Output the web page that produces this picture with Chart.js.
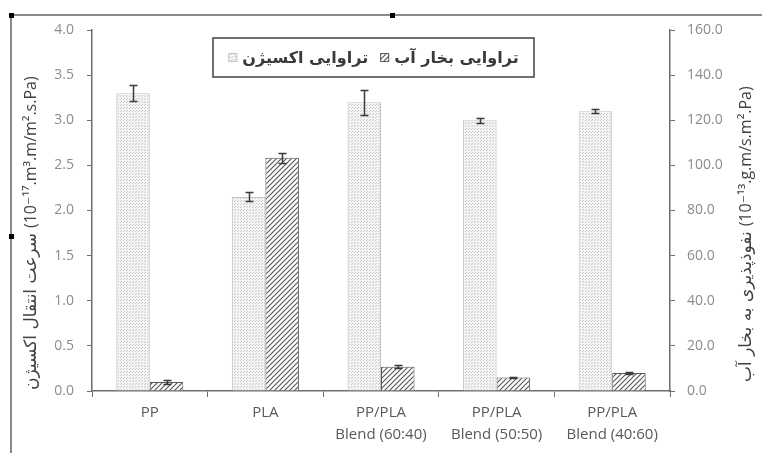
<!DOCTYPE html>
<html>
<head>
<meta charset="utf-8">
<script src="https://cdn.jsdelivr.net/npm/chart.js@4.4.0/dist/chart.umd.min.js"></script>
<style>
  html, body { margin: 0; padding: 0; background: #ffffff; }
  #wrap { width: 762px; height: 453px; position: relative; }
</style>
</head>
<body>
<div id="wrap"><canvas id="chart" width="762" height="453"></canvas></div>
<script>
// Samples on the category axis
const categories = [
  ['PP'],
  ['PLA'],
  ['PP/PLA', 'Blend (60:40)'],
  ['PP/PLA', 'Blend (50:50)'],
  ['PP/PLA', 'Blend (40:60)']
];

// Oxygen transmission rate (left axis, 10^-17 m3.m/m2.s.Pa)
const oxygenLabel = 'تراوایی اکسیژن';
const oxygenValues = [3.30, 2.15, 3.20, 3.00, 3.10];
const oxygenErrors = [0.09, 0.05, 0.14, 0.03, 0.02];

// Water vapour permeability (right axis, 10^-13 g.m/s.m2.Pa)
const vaporLabel = 'تراوایی بخار آب';
const vaporValues = [4.0, 103.4, 10.8, 6.0, 8.0];
const vaporErrors = [1.0, 2.3, 0.6, 0.4, 0.3];

// Axis ticks
const oxygenTicks = [0, 0.5, 1.0, 1.5, 2.0, 2.5, 3.0, 3.5, 4.0];
const vaporTicks = [0, 20, 40, 60, 80, 100, 120, 140, 160];

// Axis titles: Persian name and unit
const oxygenAxisName = 'سرعت انتقال اکسیژن';
const oxygenAxisUnit = '(10⁻¹⁷.m³.m/m².s.Pa)';
const vaporAxisName = 'نفوذپذیری به بخار آب';
const vaporAxisUnit = '(10⁻¹³.g.m/s.m².Pa)';

const latinFont = "'Open Sans', 'DejaVu Sans', sans-serif";
const persianFont = "'DejaVu Sans', sans-serif";

function makeDotPattern() {
  const c = document.createElement('canvas');
  c.width = 3; c.height = 3;
  const g = c.getContext('2d');
  g.fillStyle = '#f5f5f5';
  g.fillRect(0, 0, 3, 3);
  g.fillStyle = '#c8c8c8';
  g.fillRect(0, 0, 1, 1);
  g.fillRect(1, 2, 1, 1);
  return g.createPattern(c, 'repeat');
}

function makeHatchPattern() {
  const s = 5;
  const c = document.createElement('canvas');
  c.width = s; c.height = s;
  const g = c.getContext('2d');
  g.fillStyle = '#ffffff';
  g.fillRect(0, 0, s, s);
  g.strokeStyle = '#5a5a5a';
  g.lineWidth = 1.2;
  g.beginPath();
  g.moveTo(-1, s + 1); g.lineTo(s + 1, -1);
  g.moveTo(-1, 1); g.lineTo(1, -1);
  g.moveTo(s - 1, s + 1); g.lineTo(s + 1, s - 1);
  g.stroke();
  return g.createPattern(c, 'repeat');
}

const dotFill = makeDotPattern();
const hatchFill = makeHatchPattern();

const errorSets = [oxygenErrors, vaporErrors];

// Error bars drawn on top of each bar
const errorBarPlugin = {
  id: 'errorBars',
  afterDatasetsDraw(chart) {
    const ctx = chart.ctx;
    ctx.save();
    ctx.strokeStyle = '#3a3a3a';
    ctx.lineWidth = 1.5;
    chart.data.datasets.forEach((ds, i) => {
      const meta = chart.getDatasetMeta(i);
      const scale = chart.scales[ds.yAxisID];
      meta.data.forEach((bar, j) => {
        const v = ds.data[j], e = errorSets[i][j];
        const yTop = Math.round(scale.getPixelForValue(v + e)) + 0.5;
        const yBot = Math.round(scale.getPixelForValue(v - e)) + 0.5;
        const x = Math.round(bar.x) + 0.5;
        ctx.beginPath();
        ctx.moveTo(x, yTop); ctx.lineTo(x, yBot);
        ctx.moveTo(x - 4, yTop); ctx.lineTo(x + 4, yTop);
        ctx.moveTo(x - 4, yBot); ctx.lineTo(x + 4, yBot);
        ctx.stroke();
      });
    });
    ctx.restore();
  }
};

// Vertical title reading bottom to top: Persian name first, unit above it
function drawVerticalTitle(ctx, cx, bottomY, name, unit) {
  ctx.save();
  ctx.translate(cx, bottomY);
  ctx.rotate(-Math.PI / 2);
  ctx.fillStyle = '#404040';
  ctx.textBaseline = 'middle';
  ctx.textAlign = 'left';
  ctx.font = "17px " + persianFont;
  ctx.direction = 'rtl';
  const w = ctx.measureText(name).width;
  ctx.fillText(name, 0, 1);
  ctx.direction = 'ltr';
  ctx.font = "16px " + latinFont;
  ctx.fillText(unit, w + 5, 0);
  ctx.restore();
}

// Frame, axis titles and legend box
const decorPlugin = {
  id: 'decor',
  afterDraw(chart) {
    const ctx = chart.ctx;
    ctx.save();

    // outer frame (top and left edges) with handles
    ctx.strokeStyle = '#8a8a8a';
    ctx.lineWidth = 2;
    ctx.beginPath();
    ctx.moveTo(11, 453); ctx.lineTo(11, 15); ctx.lineTo(762, 15);
    ctx.stroke();
    ctx.fillStyle = '#000000';
    ctx.fillRect(9, 13, 5, 5);
    ctx.fillRect(390, 13, 5, 5);
    ctx.fillRect(9, 234, 5, 5);

    drawVerticalTitle(ctx, 31, 390, oxygenAxisName, oxygenAxisUnit);
    drawVerticalTitle(ctx, 746, 382, vaporAxisName, vaporAxisUnit);

    // legend
    const box = { x: 213, y: 38, w: 321, h: 39 };
    ctx.fillStyle = '#ffffff';
    ctx.fillRect(box.x, box.y, box.w, box.h);
    ctx.strokeStyle = '#404040';
    ctx.lineWidth = 1.5;
    ctx.strokeRect(box.x, box.y, box.w, box.h);

    const items = chart.data.datasets.map(ds => ({
      text: ds.label, fill: ds.backgroundColor, border: ds.borderColor
    }));
    ctx.font = "bold 16px " + persianFont;
    ctx.textAlign = 'left';
    ctx.direction = 'rtl';
    const sw = 9, gap = 5, itemGap = 12;
    const widths = items.map(it => sw + gap + ctx.measureText(it.text).width);
    const total = widths.reduce((a, b) => a + b, 0) + itemGap * (items.length - 1);
    let x = box.x + (box.w - total) / 2;
    const cy = box.y + box.h / 2;
    items.forEach((it, k) => {
      ctx.fillStyle = it.fill;
      ctx.fillRect(x, cy - sw / 2, sw, sw);
      ctx.strokeStyle = it.border;
      ctx.lineWidth = 1;
      ctx.strokeRect(x + 0.5, cy - sw / 2 + 0.5, sw - 1, sw - 1);
      ctx.fillStyle = '#3a3a3a';
      ctx.textBaseline = 'middle';
      ctx.fillText(it.text, x + sw + gap, cy + 1);
      x += widths[k] + itemGap;
    });
    ctx.restore();
  }
};

const axisGrey = '#6e6e6e';

new Chart(document.getElementById('chart'), {
  type: 'bar',
  data: {
    labels: categories,
    datasets: [
      {
        label: oxygenLabel,
        data: oxygenValues,
        yAxisID: 'yOxygen',
        backgroundColor: dotFill,
        borderColor: '#c4c4c4',
        borderWidth: 1,
        categoryPercentage: 0.58,
        barPercentage: 1
      },
      {
        label: vaporLabel,
        data: vaporValues,
        yAxisID: 'yVapor',
        backgroundColor: hatchFill,
        borderColor: '#595959',
        borderWidth: 1,
        categoryPercentage: 0.58,
        barPercentage: 1
      }
    ]
  },
  options: {
    responsive: false,
    animation: false,
    devicePixelRatio: 1,
    layout: { padding: { top: 30, left: 0, right: 0, bottom: 0 } },
    plugins: {
      legend: { display: false },
      tooltip: { enabled: false }
    },
    scales: {
      x: {
        grid: { display: true, drawOnChartArea: false, drawTicks: true, tickLength: 6, color: axisGrey, offset: true },
        border: { display: true, color: axisGrey, width: 1.5 },
        ticks: { color: '#595959', font: { family: latinFont, size: 15, lineHeight: 1.45 }, padding: 5, maxRotation: 0, autoSkip: false },
        afterFit(scale) { scale.height = 62; }
      },
      yOxygen: {
        position: 'left',
        min: 0, max: 4,
        afterBuildTicks(scale) { scale.ticks = oxygenTicks.map(v => ({ value: v })); },
        grid: { display: true, drawOnChartArea: false, drawTicks: true, tickLength: 5, color: axisGrey },
        border: { display: true, color: axisGrey, width: 1.5 },
        ticks: { color: '#8c8c8c', font: { family: latinFont, size: 14 }, padding: 13, callback: v => Number(v).toFixed(1) },
        afterFit(scale) { scale.width = 92; }
      },
      yVapor: {
        position: 'right',
        min: 0, max: 160,
        afterBuildTicks(scale) { scale.ticks = vaporTicks.map(v => ({ value: v })); },
        grid: { display: true, drawOnChartArea: false, drawTicks: true, tickLength: 5, color: axisGrey },
        border: { display: true, color: axisGrey, width: 1.5 },
        ticks: { color: '#8c8c8c', font: { family: latinFont, size: 14 }, padding: 12, callback: v => Number(v).toFixed(1) },
        afterFit(scale) { scale.width = 92; }
      }
    }
  },
  plugins: [errorBarPlugin, decorPlugin]
});
</script>
</body>
</html>
